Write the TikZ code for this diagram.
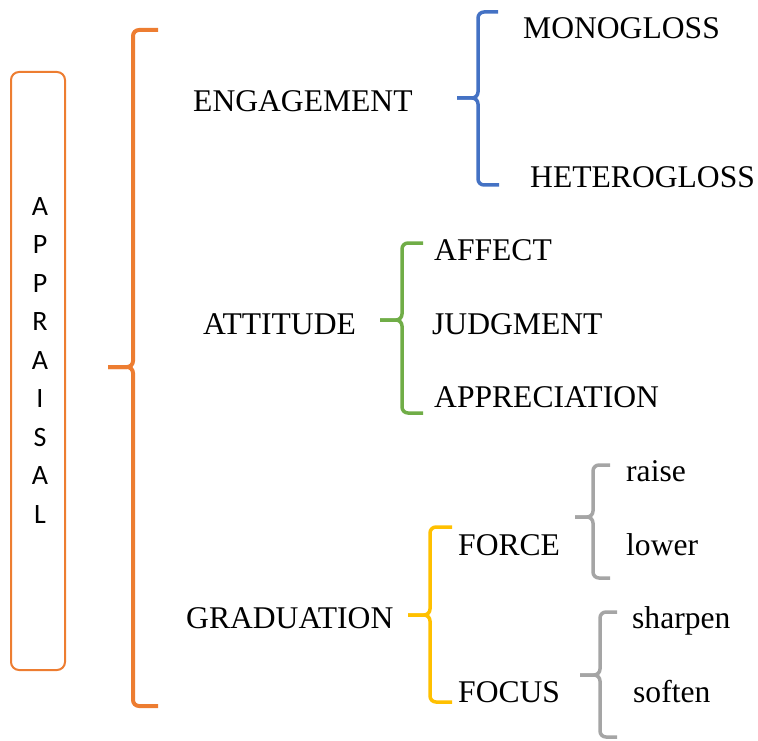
\documentclass[tikz,border=0pt]{standalone}
\usepackage{fontspec}
\setmainfont{Liberation Serif}
\newfontfamily\boxfont{Carlito}
\definecolor{cOrange}{HTML}{ED7D31}
\definecolor{cBlue}{HTML}{4472C4}
\definecolor{cGreen}{HTML}{70AD47}
\definecolor{cYellow}{HTML}{FFC000}
\definecolor{cGray}{HTML}{A5A5A5}
\begin{document}
\begin{tikzpicture}[x=1pt,y=-1pt,
  lbl/.style={anchor=base west,inner sep=0pt,font=\fontsize{31.6}{31.6}\selectfont},
  letter/.style={anchor=base,inner sep=0pt,font=\boxfont\fontsize{28}{28}\selectfont},
  brc/.style={line width=#1,rounded corners=6pt},
  brc/.default=3.5pt]
\useasboundingbox (0,0) rectangle (758,741);
% APPRAISAL box
\node[draw=cOrange,line width=2pt,rounded corners=8pt,minimum width=54pt,minimum height=598pt,inner sep=0pt] (box) at (38,371) {};
\foreach \l [count=\i from 0] in {A,P,P,R,A,I,S,A,L}
  \node[letter] (l\i) at (40,215+38.5*\i) {\l};
% Orange brace
\coordinate (om) at (108,367);
\draw[cOrange,brc=4pt] (158,30) -- (133,30) -- (133,367) -- (om);
\draw[cOrange,brc=4pt] (om) -- (133,367) -- (133,706) -- (158,706);
% Labels
\node[lbl] (eng) at (193,112) {ENGAGEMENT};
\node[lbl] (mono) at (523,39) {MONOGLOSS};
\node[lbl] (het) at (530,187) {HETEROGLOSS};
\node[lbl] (att) at (203,334) {ATTITUDE};
\node[lbl] (aff) at (434,260) {AFFECT};
\node[lbl] (jud) at (432,334) {JUDGMENT};
\node[lbl] (app) at (434,407) {APPRECIATION};
\node[lbl] (grad) at (186,628) {GRADUATION};
\node[lbl] (force) at (458,555) {FORCE};
\node[lbl] (focus) at (458,702) {FOCUS};
\node[lbl] (raise) at (626,481) {raise};
\node[lbl] (lower) at (626,555) {lower};
\node[lbl] (sharp) at (632,628) {sharpen};
\node[lbl] (soft) at (633,702) {soften};
% Blue brace
\coordinate (bm) at (457,98);
\draw[cBlue,brc] (498,12) -- (478,12) -- (478,98) -- (bm);
\draw[cBlue,brc] (bm) -- (478,98) -- (478,185) -- (499,185);
% Green brace
\coordinate (gm) at (380,320);
\draw[cGreen,brc] (423,243) -- (402,243) -- (402,320) -- (gm);
\draw[cGreen,brc] (gm) -- (402,320) -- (402,413) -- (423,413);
% Yellow brace
\coordinate (ym) at (408,615);
\draw[cYellow,brc] (452,527) -- (430,527) -- (430,615) -- (ym);
\draw[cYellow,brc] (ym) -- (430,615) -- (430,702) -- (452,702);
% Gray brace 1
\coordinate (g1m) at (575,517);
\draw[cGray,brc] (610,465) -- (593,465) -- (593,517) -- (g1m);
\draw[cGray,brc] (g1m) -- (593,517) -- (593,578) -- (610,578);
% Gray brace 2
\coordinate (g2m) at (580,675);
\draw[cGray,brc] (617,612) -- (600,612) -- (600,675) -- (g2m);
\draw[cGray,brc] (g2m) -- (600,675) -- (600,737) -- (617,737);
\end{tikzpicture}
\end{document}
